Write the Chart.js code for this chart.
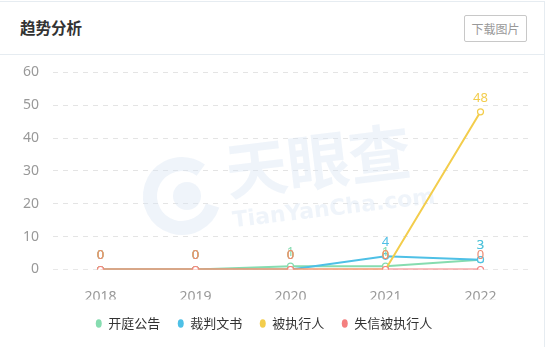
<!DOCTYPE html>
<html><head><meta charset="utf-8">
<script src="https://cdn.jsdelivr.net/npm/chart.js@4.4.0/dist/chart.umd.min.js"></script>
<style>
html,body{margin:0;padding:0;background:#fff;width:554px;height:347px;overflow:hidden;font-family:"Noto Sans CJK SC","Noto Sans",sans-serif;}
#card{position:absolute;left:0;top:1px;width:545px;height:346px;border-top:1px solid #e6ecf1;border-right:1px solid #e6ecf1;box-sizing:border-box;}
#title{position:absolute;left:20px;top:16px;font-size:15.5px;font-weight:bold;color:#333;line-height:22px;}
#btn{position:absolute;left:464px;top:15px;width:63px;height:27px;border:1px solid #c8c8c8;border-radius:2px;box-sizing:border-box;font-size:12px;color:#999;text-align:center;line-height:25px;}
#div{position:absolute;left:0;top:54px;width:545px;height:1px;background:#e6ecf1;z-index:2;}
#wrap{position:absolute;left:0;top:50px;width:554px;height:297px;}
</style></head>
<body>
<div id="card"></div>
<div id="title">趋势分析</div>
<div id="btn">下载图片</div>
<div id="wrap"><canvas id="c"></canvas></div>
<div id="div"></div>
<script>
const categories = ['2018','2019','2020','2021','2022'];
const seriesNames = ['开庭公告','裁判文书','被执行人','失信被执行人'];
const kaiting = [0,0,1,1,3];
const caipan = [0,0,0,4,3];
const beizhixing = [0,0,0,0,48];
const shixin = [0,0,0,0,0];
const yTicks = [0,10,20,30,40,50,60];
const colors = ['#86dcb0','#4ec0e6','#f3cd4c','#f47f7f'];
const labelColors = ['#86dcb0','#4ec0e6','#f3cd4c','#ea8a72'];
const drawOrder = [3,2,1,0];
const seriesData = [kaiting,caipan,beizhixing,shixin];

const watermark = {
  id:'watermark',
  beforeDatasetsDraw(chart){
    const ctx = chart.ctx; ctx.save();
    ctx.strokeStyle='rgba(215,228,242,0.4)';
    ctx.fillStyle='rgba(215,228,242,0.4)';
    ctx.lineWidth=14;
    ctx.beginPath(); ctx.arc(182,146,32,0.3,Math.PI*1.7); ctx.stroke();
    ctx.beginPath(); ctx.arc(187,146,14,0,Math.PI*2); ctx.fill();
    ctx.translate(318,111); ctx.rotate(-0.12);
    ctx.font='bold 62px "Noto Sans CJK SC"';
    ctx.textAlign='center'; ctx.textBaseline='middle';
    ctx.fillText('天眼查',0,0);
    ctx.font='bold 22px "DejaVu Sans"';
    ctx.fillText('TianYanCha.com',10,50);
    ctx.restore();
  }
};
const dataLabels = {
  id:'dataLabels',
  afterDatasetsDraw(chart){
    const ctx = chart.ctx; ctx.save();
    ctx.font='13px "Noto Sans","DejaVu Sans",sans-serif';
    ctx.textAlign='center'; ctx.textBaseline='middle';
    chart.data.datasets.forEach((ds,i)=>{
      const meta = chart.getDatasetMeta(i);
      ctx.fillStyle = labelColors[i];
      meta.data.forEach((pt,j)=>{ ctx.fillText(String(ds.data[j]), pt.x, pt.y-14); });
    });
    ctx.restore();
  }
};

new Chart(document.getElementById('c'),{
  type:'line',
  data:{labels:categories,datasets:seriesData.map((d,i)=>({
    label:seriesNames[i],data:d,borderColor:colors[i],backgroundColor:colors[i],order:drawOrder[i],
    borderWidth:2,pointRadius:3,pointBorderWidth:1.2,pointBackgroundColor:'#fff',pointBorderColor:colors[i],
    tension:0,pointStyle:'circle'
  }))},
  options:{
    responsive:true,maintainAspectRatio:false,animation:false,
    layout:{padding:{top:9,right:26,left:0,bottom:7}},
    plugins:{
      tooltip:{enabled:false},
      legend:{position:'bottom',labels:{usePointStyle:true,boxWidth:6,boxHeight:6,pointStyleWidth:6,padding:17.5,color:'#333',font:{size:13,family:'"Noto Sans CJK SC"'},
        sort:(a,b)=>a.datasetIndex-b.datasetIndex,
        generateLabels(chart){return chart.data.datasets.map((ds,i)=>({text:ds.label,fillStyle:colors[i],strokeStyle:colors[i],lineWidth:0,pointStyle:'circle',datasetIndex:i,hidden:false,fontColor:'#333'}));}}}
    },
    scales:{
      x:{offset:true,grid:{display:false,drawTicks:false},border:{display:false},
        ticks:{color:'#999',font:{size:14,family:'"Noto Sans"'},padding:19},
        afterFit(s){s.height=30;}},
      y:{min:0,max:60,afterBuildTicks(s){s.ticks=yTicks.map(v=>({value:v}));},
        grid:{drawTicks:false,color:(c)=>c.tick.value===0?'#e8e8e8':'#e4e4e4',lineWidth:1},
        border:{display:false,dash:[5,5]},
        ticks:{color:'#999',font:{size:14,family:'"Noto Sans"'},padding:14},
        afterFit(s){s.width=53;}}
    }
  },
  plugins:[watermark,dataLabels]
});
</script>
</body></html>
